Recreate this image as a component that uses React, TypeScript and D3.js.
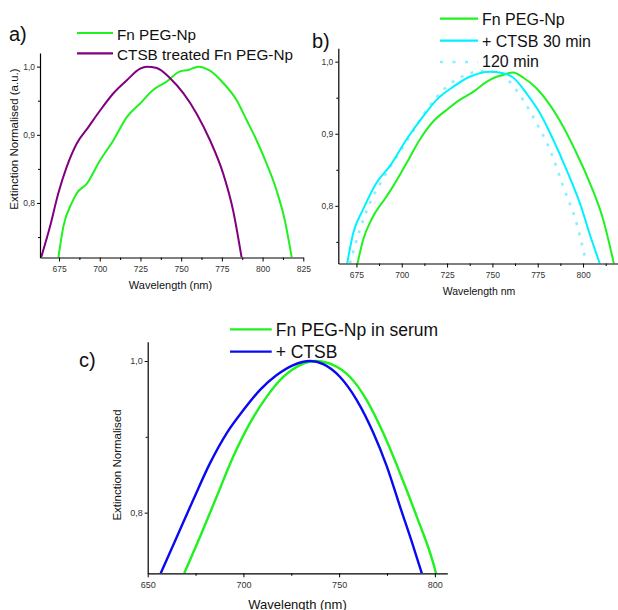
import React, { useEffect, useRef } from 'react';
import * as d3 from 'd3';

// ---- data ----
// panel a
const aFnWl = [674.6, 677.6, 682.8, 685.8, 692.1, 700.3, 708.4, 716.6, 724.8, 732.9, 741.1, 749.3, 754.4, 760.5, 767.7, 775.8, 784, 790.1, 796.3, 802.4, 808.5, 813.6, 817.9];
const aFnExt = [0.72, 0.765, 0.8, 0.814, 0.8285, 0.863, 0.892, 0.926, 0.946, 0.966, 0.978, 0.993, 0.995, 1.0, 0.994, 0.976, 0.951, 0.922, 0.892, 0.858, 0.819, 0.775, 0.72];
const aCtsbWl = [664, 669.4, 674.5, 679.7, 685.8, 692.9, 700.3, 708.4, 716.6, 724.8, 728.9, 735, 743.2, 751.3, 759.5, 767.7, 775.8, 781.9, 787.1];
const aCtsbExt = [0.72, 0.765, 0.814, 0.853, 0.887, 0.911, 0.936, 0.961, 0.98, 0.997, 1.0, 0.998, 0.983, 0.961, 0.931, 0.892, 0.843, 0.789, 0.72];

// panel b
const bFnWl = [675.6, 678.7, 683.3, 691.6, 695.2, 702.6, 710, 717.3, 724.7, 732, 739.4, 746.8, 752.3, 755.9, 761.4, 766.9, 774.3, 781.7, 789, 796.4, 803.7, 811.1, 817];
const bFnExt = [0.72, 0.753, 0.781, 0.813, 0.827, 0.859, 0.892, 0.917, 0.933, 0.947, 0.958, 0.972, 0.979, 0.9815, 0.985, 0.978, 0.963, 0.94, 0.91, 0.873, 0.832, 0.781, 0.72];
const b30Wl = [669.9, 673.2, 678.7, 686.1, 693.4, 702.6, 711.8, 719.2, 728.3, 737.5, 748.6, 755.9, 761.4, 768.8, 776.1, 783.5, 790.9, 798.2, 804.7, 809.2];
const b30Ext = [0.72, 0.762, 0.795, 0.832, 0.855, 0.892, 0.924, 0.947, 0.965, 0.979, 0.986, 0.984, 0.978, 0.956, 0.929, 0.892, 0.85, 0.804, 0.753, 0.72];
const b120Wl = [671.4, 676.9, 682.4, 688.8, 696.2, 704.4, 713.6, 724.7, 735.7, 744.8, 754.1, 759.6, 766.9, 774.3, 781.7, 789, 796.4, 801.9];
const b120Ext = [0.72, 0.767, 0.804, 0.834, 0.864, 0.896, 0.933, 0.965, 0.982, 0.987, 0.984, 0.972, 0.947, 0.915, 0.878, 0.827, 0.776, 0.72];

// panel c
const cSerumWl = [669.1, 677.3, 686, 694.7, 703.4, 712.2, 720.8, 729.6, 737.4, 747, 755.7, 764.4, 773.1, 781.8, 790.5, 799.2, 800.6];
const cSerumExt = [0.72, 0.768, 0.821, 0.874, 0.918, 0.953, 0.979, 0.9947, 1.0, 0.9947, 0.979, 0.9485, 0.9046, 0.852, 0.795, 0.733, 0.72];
const cCtsbWl = [656.8, 665.2, 673.8, 682.5, 691.3, 699.9, 708.7, 717.4, 726.1, 734.8, 741.7, 750.5, 759.2, 767.9, 774.9, 781.8, 788.8, 793.2];
const cCtsbExt = [0.72, 0.768, 0.817, 0.865, 0.905, 0.935, 0.962, 0.9815, 0.9947, 1.0, 0.996, 0.979, 0.9485, 0.905, 0.861, 0.808, 0.755, 0.72];

// ticks
const abXTicks = [675, 700, 725, 750, 775, 800, 825];
const abXMinor = [687.5, 712.5, 737.5, 762.5, 787.5, 812.5];
const abYTicks = [0.8, 0.9, 1.0];
const abYMinor = [0.75, 0.85, 0.95];
const cXTicks = [650, 700, 750, 800];
const cXMinor = [675, 725, 775];
const cYTicks = [0.8, 1.0];
const cYMinor = [0.9];

const GREEN = '#1ff21f';
const PURPLE = '#800080';
const CYAN = '#00f2ff';
const LIGHTCYAN = '#8af0ff';
const BLUE = '#0a0af2';
const FONT = '"Liberation Sans", Arial, sans-serif';

const App = () => {
  const ref = useRef(null);

  useEffect(() => {
    const svg = d3.select(ref.current);
    svg.selectAll('*').remove();

    const decimal = (d) => d3.format('.1f')(d).replace('.', ',');

    const panels = [
      {
        id: 'a', left: 40, right: 303.3, top: 53, bottom: 257.5,
        xDomain: [663.3, 825], yDomain: [0.72, 1.02],
        xTicks: abXTicks, xMinor: abXMinor, yTicks: abYTicks, yMinor: abYMinor,
        tickFont: 8.5, curve: d3.curveMonotoneX, width: 2,
        series: [
          { wl: aFnWl, ext: aFnExt, color: GREEN },
          { wl: aCtsbWl, ext: aCtsbExt, color: PURPLE },
        ],
      },
      {
        id: 'b', left: 338.3, right: 619.3, top: 48.3, bottom: 263.5,
        xDomain: [665, 820], yDomain: [0.72, 1.0185],
        xTicks: abXTicks.filter(t => t <= 800), xMinor: abXMinor, yTicks: abYTicks, yMinor: abYMinor,
        tickFont: 8.5, curve: d3.curveMonotoneX, width: 2,
        series: [
          { wl: b120Wl, ext: b120Ext, color: LIGHTCYAN, dash: '3,7.5' },
          { wl: bFnWl, ext: bFnExt, color: GREEN },
          { wl: b30Wl, ext: b30Ext, color: CYAN },
        ],
      },
      {
        id: 'c', left: 147.7, right: 447.3, top: 341.7, bottom: 573.3,
        xDomain: [650, 806.5], yDomain: [0.72, 1.0255],
        xTicks: cXTicks, xMinor: cXMinor, yTicks: cYTicks, yMinor: cYMinor,
        tickFont: 9, curve: d3.curveMonotoneX, width: 2.4,
        series: [
          { wl: cSerumWl, ext: cSerumExt, color: GREEN },
          { wl: cCtsbWl, ext: cCtsbExt, color: BLUE },
        ],
      },
    ];

    panels.forEach(p => {
      const x = d3.scaleLinear().domain(p.xDomain).range([p.left, p.right]);
      const y = d3.scaleLinear().domain(p.yDomain).range([p.bottom, p.top]);

      const clipId = 'clip-' + p.id;
      svg.append('clipPath').attr('id', clipId)
        .append('rect')
        .attr('x', p.left).attr('y', p.top)
        .attr('width', p.right - p.left).attr('height', p.bottom - p.top);

      const plot = svg.append('g').attr('clip-path', `url(#${clipId})`);
      p.series.forEach(s => {
        const pts = s.wl.map((w, i) => [w, s.ext[i]]);
        const line = d3.line().x(d => x(d[0])).y(d => y(d[1])).curve(p.curve);
        plot.append('path')
          .attr('d', line(pts))
          .attr('fill', 'none')
          .attr('stroke', s.color)
          .attr('stroke-width', s.dash ? 2.6 : p.width)
          .attr('stroke-dasharray', s.dash || null)
          .attr('stroke-linejoin', 'round');
      });

      // x axis
      const gx = svg.append('g').attr('transform', `translate(0,${p.bottom})`);
      gx.call(d3.axisBottom(x).tickValues(p.xTicks).tickSize(4).tickSizeOuter(0).tickFormat(d3.format('d')));
      gx.append('g').call(d3.axisBottom(x).tickValues(p.xMinor).tickSize(2.5).tickFormat(() => ''))
        .select('.domain').remove();
      gx.selectAll('text').attr('font-size', p.tickFont).attr('font-family', FONT).attr('fill', '#333').attr('dy', '0.9em');

      // y axis
      const gy = svg.append('g').attr('transform', `translate(${p.left},0)`);
      gy.call(d3.axisLeft(y).tickValues(p.yTicks).tickSize(3).tickSizeOuter(0).tickFormat(decimal));
      gy.append('g').call(d3.axisLeft(y).tickValues(p.yMinor).tickSize(2).tickFormat(() => ''))
        .select('.domain').remove();
      gy.selectAll('text').attr('font-size', p.tickFont).attr('font-family', FONT).attr('fill', '#333').attr('x', -5);

      svg.selectAll('.domain').attr('stroke', '#000').attr('stroke-width', 1.2);
    });

    const text = (t, px, py, size, anchor = 'start', rotate = false) => {
      const el = svg.append('text')
        .attr('font-family', FONT).attr('font-size', size).attr('fill', '#111')
        .attr('text-anchor', anchor).text(t);
      if (rotate) el.attr('transform', `translate(${px},${py}) rotate(-90)`);
      else el.attr('x', px).attr('y', py);
    };

    const legend = (x0, x1, ly, color, label, ty, size, dash) => {
      svg.append('line').attr('x1', x0).attr('x2', x1).attr('y1', ly).attr('y2', ly)
        .attr('stroke', color).attr('stroke-width', dash ? 2.6 : 2.2)
        .attr('stroke-dasharray', dash || null);
      text(label, x1 + 4, ty, size);
    };

    // panel labels
    text('a)', 9, 41, 20);
    text('b)', 312, 47.5, 20);
    text('c)', 79, 367, 20);

    // legends
    legend(77, 113, 33, GREEN, 'Fn PEG-Np', 39.5, 15.3);
    legend(77, 113, 53.3, PURPLE, 'CTSB treated Fn PEG-Np', 59.5, 15.3);

    legend(440, 478, 18.7, GREEN, 'Fn PEG-Np', 25, 16);
    legend(440, 478, 40.7, CYAN, '+ CTSB 30 min', 46.5, 16);
    legend(440, 478, 62, LIGHTCYAN, '120 min', 67, 16, '3,9.5');

    legend(230, 271.7, 329.3, GREEN, 'Fn PEG-Np in serum', 336, 17.5);
    legend(230, 271.7, 351.7, BLUE, '+ CTSB', 358.3, 17.5);

    // axis titles
    text('Wavelength (nm)', 170.5, 288.5, 11, 'middle');
    text('Extinction Normalised (a.u.)', 17.5, 139, 11.5, 'middle', true);
    text('Wavelength nm', 479, 294.5, 10.5, 'middle');
    text('Wavelength (nm)', 297.5, 608.5, 13, 'middle');
    text('Extinction Normalised', 121, 465, 11.5, 'middle', true);
  }, []);

  return (
    <svg
      ref={ref}
      width={618}
      height={610}
      style={{ position: 'absolute', left: 0, top: 0, background: '#fff' }}
    />
  );
};

export default App;
